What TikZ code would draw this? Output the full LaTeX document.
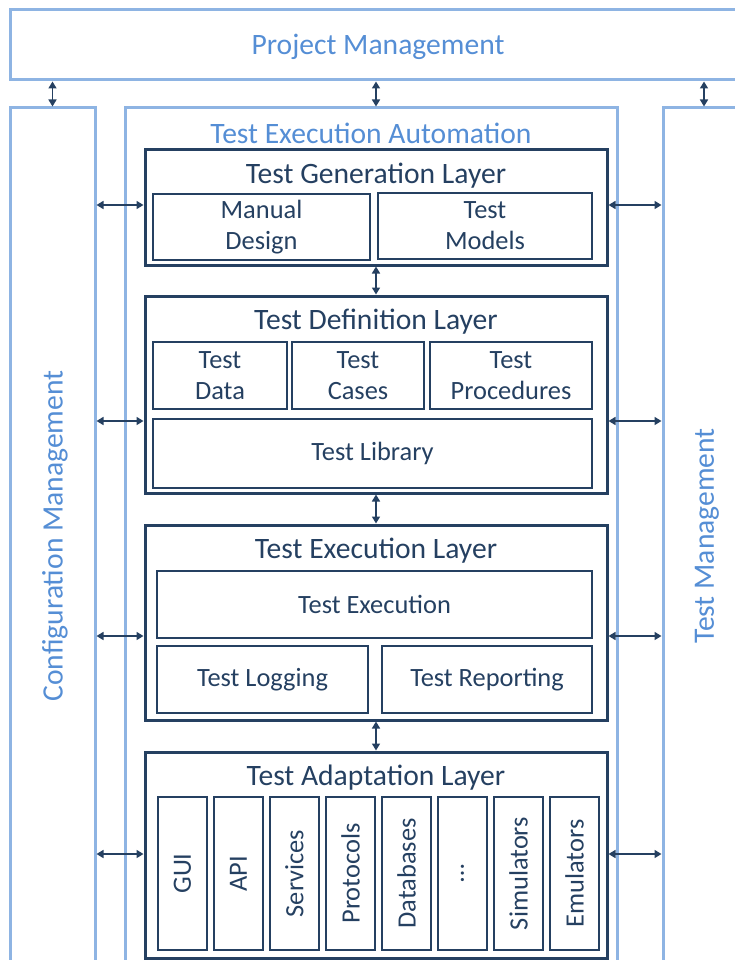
\documentclass[tikz,border=0pt]{standalone}
\usepackage{fontspec}
\setmainfont{Carlito}
\usepackage{tikz}
\usetikzlibrary{positioning}
\usetikzlibrary{arrows.meta}
\definecolor{lightblue}{HTML}{8EB4E3}
\definecolor{midblue}{HTML}{558ED5}
\definecolor{darkblue}{HTML}{254061}

\begin{document}
\begin{tikzpicture}[x=1pt, y=-1pt,
	outerbox/.style={rectangle, draw=lightblue, line width=3pt, inner sep=0pt},
	outertext/.style={text=midblue, font=\fontsize{29.6}{34}\selectfont},
	layerbox/.style={rectangle, draw=darkblue, line width=3pt, inner sep=0pt},
	layertitle/.style={text=darkblue, font=\fontsize{29.6}{34}\selectfont},
	innerbox/.style={rectangle, draw=darkblue, line width=2.6pt, inner sep=0pt, align=center, text=darkblue, font=\fontsize{26.4}{31}\selectfont},
	biarrow/.style={draw=darkblue, line width=1.6pt, {Triangle[width=8pt,length=7pt]}-{Triangle[width=8pt,length=7pt]}}]
	\clip (0,0) rectangle (735,960);

	% outer frame
	\node[outerbox, minimum width=735, minimum height=70](pm) at (377.5,45){};
	\node[outertext](pmText) at (378,47){Project Management};
	\node[outerbox, minimum width=85, minimum height=882](cfg) at (52.5,549){};
	\node[outertext, rotate=90](cfgText) at (55,536){Configuration Management};
	\node[outerbox, minimum width=492, minimum height=882](tea) at (371,549){};
	\node[outertext](teaText) at (371,133){Test Execution Automation};
	\node[outerbox, minimum width=82, minimum height=882](tm) at (704,549){};
	\node[outertext, rotate=90](tmText) at (707,536){Test Management};

	% layers
	\node[layerbox, minimum width=462, minimum height=115](gen)   at (376,207.5){};
	\node[layerbox, minimum width=462, minimum height=197](def)   at (376,394.5){};
	\node[layerbox, minimum width=462, minimum height=195](exec)  at (376,622.5){};
	\node[layerbox, minimum width=462, minimum height=206](adapt) at (376,855){};
	\node[layertitle](genTitle)   at (376,176){Test Generation Layer};
	\node[layertitle](defTitle)   at (376,322){Test Definition Layer};
	\node[layertitle](execTitle)  at (376,551){Test Execution Layer};
	\node[layertitle](adaptTitle) at (376,778){Test Adaptation Layer};

	% generation
	\node[innerbox, minimum width=217, minimum height=66](manual) at (261.5,227){Manual\\Design};
	\node[innerbox, minimum width=214, minimum height=66](models) at (485,226){Test\\Models};
	% definition
	\node[innerbox, minimum width=134, minimum height=67](data)  at (220,375.5){Test\\Data};
	\node[innerbox, minimum width=132, minimum height=67](cases) at (358,375.5){Test\\Cases};
	\node[innerbox, minimum width=162, minimum height=67](procs) at (511,375.5){Test\\Procedures};
	\node[innerbox, minimum width=439, minimum height=69](lib)   at (372.5,453.5){Test Library};
	% execution
	\node[innerbox, minimum width=435, minimum height=67](execution) at (374.5,604.5){Test Execution};
	\node[innerbox, minimum width=211, minimum height=67](logging)   at (262.5,679.5){Test Logging};
	\node[innerbox, minimum width=210, minimum height=67](reporting) at (487,679.5){Test Reporting};
	% adaptation
	\foreach \name [count=\i] in {GUI,API,Services,Protocols,Databases,\ldots,Simulators,Emulators}
		\node[innerbox, rotate=90, minimum width=153, minimum height=49](col\i) at (126.5+56*\i,873.5){\name};

	% arrows
	\draw[biarrow] (pm.south -| cfg.north) -- (cfg.north);
	\draw[biarrow] (pm.south -| gen.north) -- (gen.north |- tea.north);
	\draw[biarrow] (pm.south -| tm.north) -- (tm.north);
	\draw[biarrow] (gen.south) -- (def.north);
	\draw[biarrow] (def.south) -- (exec.north);
	\draw[biarrow] (exec.south) -- (adapt.north);
	\foreach \layer/\y in {gen/205,def/421,exec/636,adapt/854}{
		\draw[biarrow] (cfg.east |- 0,\y) -- (\layer.west |- 0,\y);
		\draw[biarrow] (\layer.east |- 0,\y) -- (tm.west |- 0,\y);
	}
\end{tikzpicture}
\end{document}
